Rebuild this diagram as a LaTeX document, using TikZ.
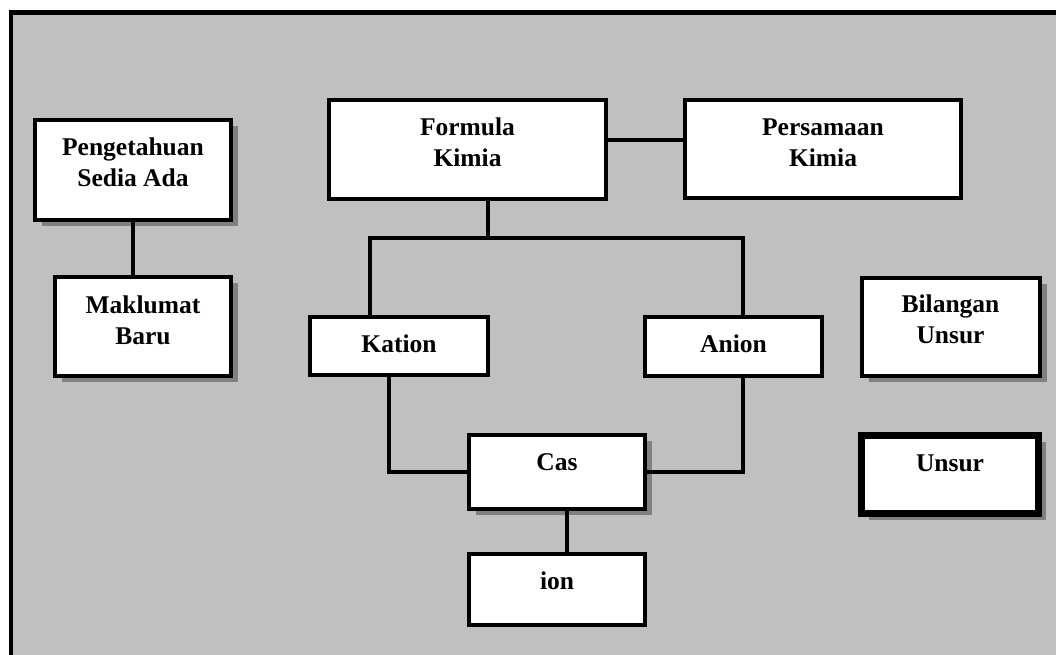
\documentclass[tikz,border=0pt]{standalone}
\usepackage{fontspec}
\setmainfont{Liberation Serif}
\usetikzlibrary{shadows,calc}
\definecolor{panel}{HTML}{C0C0C0}
\definecolor{shade}{HTML}{808080}
\begin{document}
\begin{tikzpicture}[x=1pt,y=-1pt,
  box/.style={draw=black, line width=4pt, fill=white, rectangle, inner sep=0pt},
  shadowed/.style={drop shadow={shadow xshift=7pt, shadow yshift=-6pt, fill=shade, opacity=1}},
  lbl/.style={font=\bfseries\fontsize{25.5}{31}\selectfont, align=center, inner sep=0pt, anchor=base},
  link/.style={line width=4pt}]
\useasboundingbox (0,0) rectangle (1056,654);
% grey panel with its frame running off the right and bottom edges
\begin{scope}
  \clip (0,0) rectangle (1056,654);
  \draw[line width=4.5pt, fill=panel] (11,12.5) rectangle (1080,680);
\end{scope}

% boxes
\node[box, shadowed, minimum width=196pt, minimum height=100pt] (pk) at (133,170) {};
\node[box, shadowed, minimum width=176pt, minimum height=99pt] (mb) at (143,326.5) {};
\node[box, minimum width=277pt, minimum height=99pt] (fk) at (467.5,149.5) {};
\node[box, minimum width=276pt, minimum height=98pt] (pkm) at (823,149) {};
\node[box, minimum width=178pt, minimum height=58pt] (kat) at (399,346) {};
\node[box, minimum width=177pt, minimum height=59pt] (an) at (733.5,346.5) {};
\node[box, shadowed, minimum width=176pt, minimum height=74pt] (cas) at (557,472) {};
\node[box, minimum width=176pt, minimum height=71pt] (ion) at (557,589.5) {};
\node[box, shadowed, minimum width=178pt, minimum height=98pt] (bu) at (950.5,327) {};
\node[box, shadowed, line width=6.5pt, minimum width=177pt, minimum height=78pt] (un) at (950,474.5) {};

% labels (base anchor sits on the last line)
\node[lbl] (pk-t) at (133,186) {Pengetahuan\\Sedia Ada};
\node[lbl] (mb-t) at (143,344) {Maklumat\\Baru};
\node[lbl] (fk-t) at (467.5,166) {Formula\\Kimia};
\node[lbl] (pkm-t) at (823,166) {Persamaan\\Kimia};
\node[lbl] (kat-t) at (399,352) {Kation};
\node[lbl] (an-t) at (733.5,352) {Anion};
\node[lbl] (cas-t) at (557,470) {Cas};
\node[lbl] (ion-t) at (557,589) {ion};
\node[lbl] (bu-t) at (950.5,343) {Bilangan\\Unsur};
\node[lbl] (un-t) at (950,471) {Unsur};

% junction points
\coordinate (hub) at (488,238);
\coordinate (kt) at (370,238);
\coordinate (at) at (743,238);
\coordinate (kb) at (389,0);
\coordinate (ci) at (567,0);

% connectors
\draw[link] (pk.south) -- (pk.south |- mb.north);
\draw[link] ([yshift=9.5pt]fk.east) -- ([yshift=9.5pt]fk.east -| pkm.west);
\draw[link] (fk.south -| hub) -- (hub);
\draw[link] (kat.north -| kt) -- (kt) -- (at) -- (an.north -| at);
\draw[link] (kat.south -| kb) |- (cas.west);
\draw[link] (an.south -| at) |- (cas.east);
\draw[link] (cas.south -| ci) -- (ion.north -| ci);
\end{tikzpicture}
\end{document}
